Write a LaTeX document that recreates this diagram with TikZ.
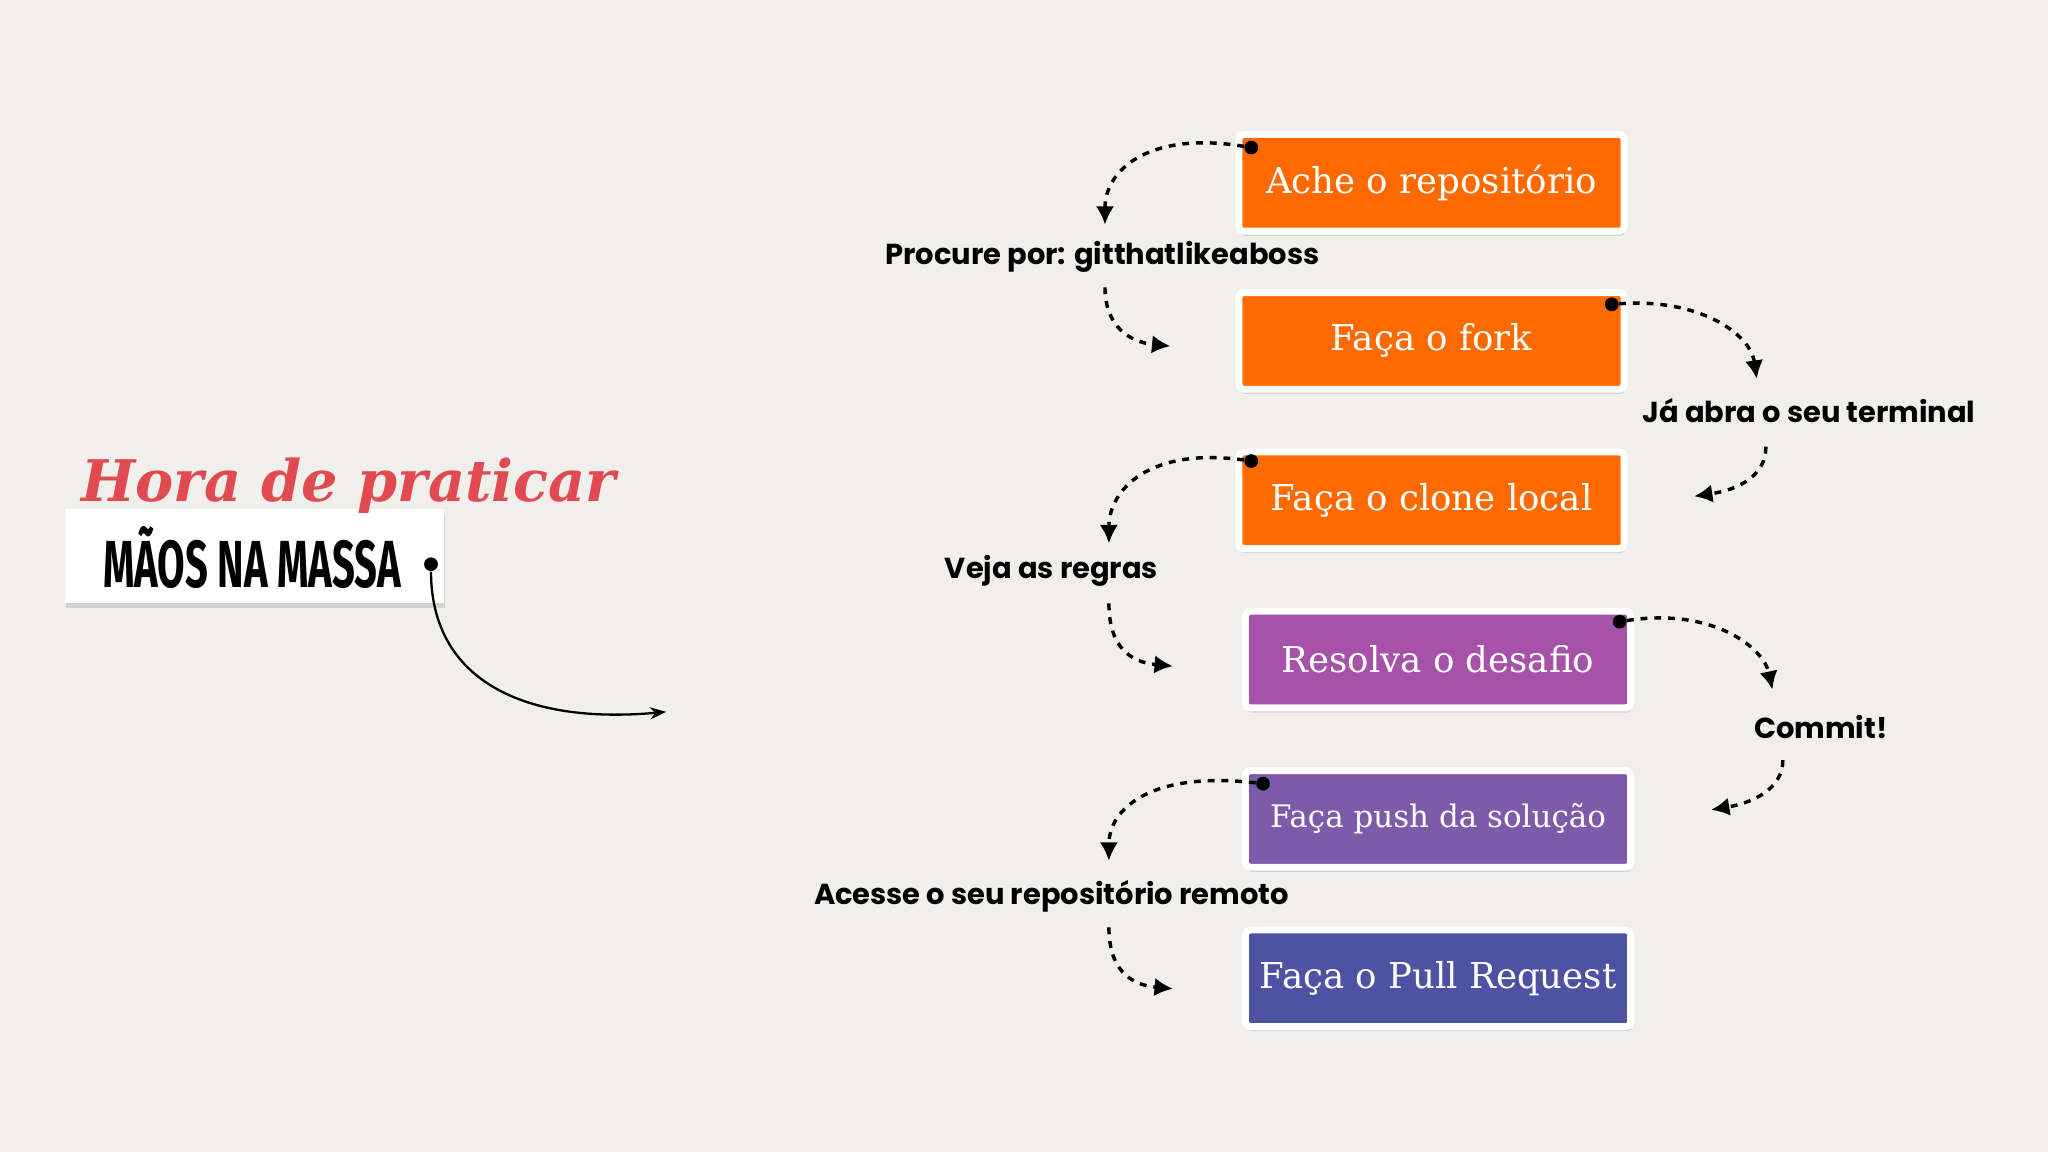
\documentclass[tikz,border=0pt]{standalone}
\usepackage{fontspec}
\setmainfont{DejaVu Serif}
\newfontfamily\labfont{Poppins}
\newfontfamily\condfont{Fira Sans}
\usetikzlibrary{arrows.meta,shadows}
\definecolor{bg}{HTML}{F0EFEB}
\definecolor{cOr}{HTML}{FF6A00}
\definecolor{cPu}{HTML}{A552A8}
\definecolor{cVi}{HTML}{7E5BAA}
\definecolor{cIn}{HTML}{4E52A3}
\definecolor{cRed}{HTML}{E04A50}
\tikzset{
 stepbox/.style={draw=white,line width=3pt,rounded corners=2pt,minimum width=5.9cm,minimum height=1.48cm,text=white,font=\fontsize{15.5}{17}\selectfont,drop shadow={shadow xshift=0.5pt,shadow yshift=-2pt,opacity=0.25}},
 lab/.style={font=\labfont\bfseries\fontsize{12.6}{14}\selectfont,text=black},
 dsh/.style={line width=1.5pt,dash pattern=on 3pt off 3pt,-{Latex[length=8pt,width=8pt]}},
 dotm/.style={circle,fill=black,inner sep=0pt,minimum size=6pt}
}
\begin{document}
\begin{tikzpicture}[x=0.02cm,y=-0.02cm]
\fill[bg] (0,0) rectangle (1568,882);
\useasboundingbox (0,0) rectangle (1568,882);
% left
\node[fill=white,minimum width=5.8cm,minimum height=1.44cm,drop shadow={shadow xshift=0.5pt,shadow yshift=-2pt,opacity=0.25}] (mb) at (195,426) {};
\node[font=\condfont\bfseries\fontsize{29}{31}\selectfont,xscale=0.6] (mt) at (193,427) {MÃOS NA MASSA};
\node[font=\itshape\bfseries\fontsize{25}{27}\selectfont,text=cRed] (hp) at (267,372) {Hora de praticar};
\node[dotm] (ld) at (330,432) {};
\coordinate (la) at (510,545);
\draw[line width=1pt,-{Stealth[length=7pt]}] (ld) .. controls (330,520) and (400,555) .. (la);
% boxes
\node[stepbox,fill=cOr] (b1) at (1096,140) {Ache o repositório};
\node[stepbox,fill=cOr] (b2) at (1096,261) {Faça o fork};
\node[stepbox,fill=cOr] (b3) at (1096,383) {Faça o clone local};
\node[stepbox,fill=cPu] (b4) at (1101,505) {Resolva o desafio};
\node[stepbox,fill=cVi] (b5) at (1101,627) {\fontsize{13.5}{15}\selectfont Faça push da solução};
\node[stepbox,fill=cIn] (b6) at (1101,749) {Faça o Pull Request};
% labels
\node[lab] (l1) at (844,197) {Procure por: gitthatlikeaboss};
\node[lab] (l2) at (1385,314) {Já abra o seu terminal};
\node[lab] (l3) at (805,437) {Veja as regras};
\node[lab] (l4) at (1394,557) {Commit!};
\node[lab] (l5) at (805,686) {Acesse o seu repositório remoto};
% dots
\node[dotm] (d1) at (958,113) {};
\node[dotm] (d2) at (1234,233) {};
\node[dotm] (d3) at (958,353) {};
\node[dotm] (d4) at (1240,476) {};
\node[dotm] (d5) at (967,600) {};
\coordinate (a1) at (846,172); \coordinate (s1) at (846,220); \coordinate (e1) at (896,265);
\coordinate (a2) at (1345,290); \coordinate (s2) at (1352,342); \coordinate (e2) at (1297,380);
\coordinate (a3) at (849,416); \coordinate (s3) at (849,462); \coordinate (e3) at (898,510);
\coordinate (a4) at (1357,528); \coordinate (s4) at (1365,582); \coordinate (e4) at (1310,620);
\coordinate (a5) at (849,659); \coordinate (s5) at (849,710); \coordinate (e5) at (898,757);
\draw[dsh] (d1) .. controls (880,100) and (846,130) .. (a1);
\draw[dsh] (s1) .. controls (846,250) and (865,262) .. (e1);
\draw[dsh] (d2) .. controls (1300,228) and (1340,255) .. (a2);
\draw[dsh] (s2) .. controls (1352,365) and (1330,375) .. (e2);
\draw[dsh] (d3) .. controls (880,342) and (849,375) .. (a3);
\draw[dsh] (s3) .. controls (849,495) and (865,507) .. (e3);
\draw[dsh] (d4) .. controls (1310,465) and (1350,495) .. (a4);
\draw[dsh] (s4) .. controls (1365,605) and (1340,615) .. (e4);
\draw[dsh] (d5) .. controls (880,590) and (849,620) .. (a5);
\draw[dsh] (s5) .. controls (849,742) and (865,754) .. (e5);
\end{tikzpicture}
\end{document}
